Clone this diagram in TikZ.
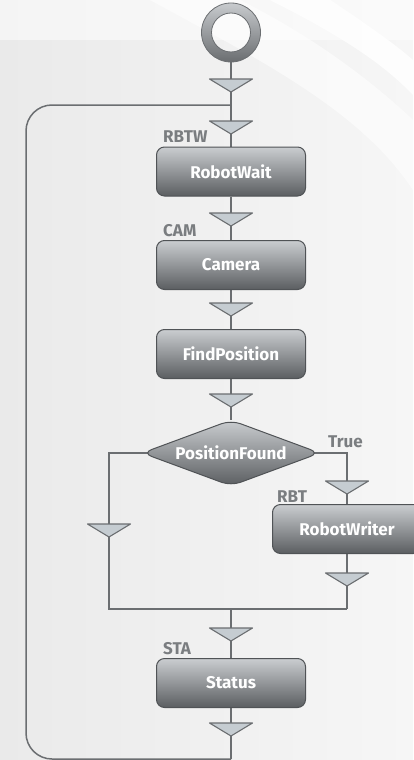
\documentclass[tikz,border=0pt]{standalone}
\usepackage{fontspec}
\setmainfont{Fira Sans}
\usetikzlibrary{shapes.geometric}
\definecolor{bgL}{HTML}{EAEAEA}
\definecolor{bgR}{HTML}{F6F6F6}
\definecolor{linec}{HTML}{6B6E71}
\definecolor{trifill}{HTML}{C5CCD1}
\definecolor{boxtop}{HTML}{CACDD0}
\definecolor{boxbot}{HTML}{5B5E61}
\definecolor{boxline}{HTML}{505356}
\definecolor{labelc}{HTML}{7A7D80}
\definecolor{ringtop}{HTML}{C8CBCE}
\definecolor{ringbot}{HTML}{6A6D70}
\pgfdeclarelayer{bglayer}
\pgfdeclarelayer{linelayer}
\pgfsetlayers{bglayer,linelayer,main}
\newcommand\flowtri[2]{\coordinate (#1) at #2;
  \filldraw[tri] (#1) ++(-21.5,0) -- ++(43,0) -- ++(-21.5,13) -- cycle;}
\begin{document}
\begin{tikzpicture}[x=1pt,y=-1pt,
  flow/.style={draw=linec, line width=1.5pt},
  tri/.style={fill=trifill, draw=linec, line width=1.1pt, line join=round},
  box/.style={rectangle, rounded corners=8pt, minimum width=149pt, minimum height=49pt,
    inner sep=0pt, top color=boxtop, bottom color=boxbot, draw=boxline, line width=1pt,
    text=white, font=\bfseries\fontsize{17}{20}\selectfont},
  dec/.style={diamond, aspect=2.7, minimum width=178pt, minimum height=66pt, inner sep=0pt,
    rounded corners=10pt, top color=boxtop, bottom color=boxbot, draw=boxline, line width=1pt,
    text=white, font=\bfseries\fontsize{17}{20}\selectfont},
  lab/.style={text=labelc, font=\bfseries\fontsize{17}{20}\selectfont, inner sep=0pt}
]
\useasboundingbox (0,0) rectangle (413,760);
\begin{pgfonlayer}{bglayer}
  \shade[left color=bgL, right color=bgR] (0,0) rectangle (413,760);
  \fill[white, opacity=0.55] (150,0) .. controls (260,60) and (360,110) .. (413,190)
     -- (413,120) .. controls (360,70) and (300,30) .. (240,0) -- cycle;
  \fill[white, opacity=0.8] (270,0) .. controls (330,30) and (380,60) .. (413,95)
     -- (413,60) .. controls (390,40) and (360,20) .. (330,0) -- cycle;
  \fill[white, opacity=0.5] (0,0) rectangle (413,40);
\end{pgfonlayer}

% start node
\node[circle, minimum size=59pt, inner sep=0pt] (start) at (231,32.5) {};
\shade[top color=ringtop, bottom color=ringbot, even odd rule]
  (start.center) circle[radius=29.5] (start.center) circle[radius=19.5];
\draw[linec, line width=0.8pt] (start.center) circle[radius=29.5];
\draw[linec, line width=0.8pt] (start.center) circle[radius=19.5];

% boxes
\node[box] (rw) at (231,171.5) {RobotWait};
\node[box] (cam) at (231,265) {Camera};
\node[box] (fp) at (231,354) {FindPosition};
\node[dec] (pf) at (231,453) {PositionFound};
\node[box] (rwr) at (347,529) {RobotWriter};
\node[box] (sta) at (231,683) {Status};

% labels
\node[lab, anchor=base west] (lrbtw) at (163,142.5) {RBTW};
\node[lab, anchor=base west] (lcam) at (163,236) {CAM};
\node[lab, anchor=base west] (ltrue) at (328,447) {True};
\node[lab, anchor=base west] (lrbt) at (277,502) {RBT};
\node[lab, anchor=base west] (lsta) at (163,654) {STA};

% coordinates
\coordinate (j1) at (231,105);
\coordinate (lc) at (26,105);
\coordinate (mL) at (109,609);
\coordinate (mR) at (347,609);
\coordinate (mC) at (231,609);
\coordinate (bot) at (231,759);

\begin{pgfonlayer}{linelayer}
  \draw[flow] (start) -- (rw);
  \draw[flow] (rw) -- (cam);
  \draw[flow] (cam) -- (fp);
  \draw[flow] (fp) -- (pf);
  \draw[flow] (pf.center) -| (mL) -- (mR);
  \draw[flow] (pf.center) -| (rwr.north);
  \draw[flow] (rwr.south) -- (mR);
  \draw[flow] (mC) -- (sta);
  \draw[flow] (sta) -- (bot);
  \draw[flow, rounded corners=26pt] (bot) -| (lc) -- (j1);
\end{pgfonlayer}

% triangles
\flowtri{t1}{(231,79)}
\flowtri{t2}{(231,121)}
\flowtri{t3}{(231,213)}
\flowtri{t4}{(231,303)}
\flowtri{t5}{(231,394)}
\flowtri{tt}{(347,481)}
\flowtri{tl}{(109,524)}
\flowtri{tr}{(347,573)}
\flowtri{t6}{(231,628)}
\flowtri{t7}{(231,723)}
\end{tikzpicture}
\end{document}
